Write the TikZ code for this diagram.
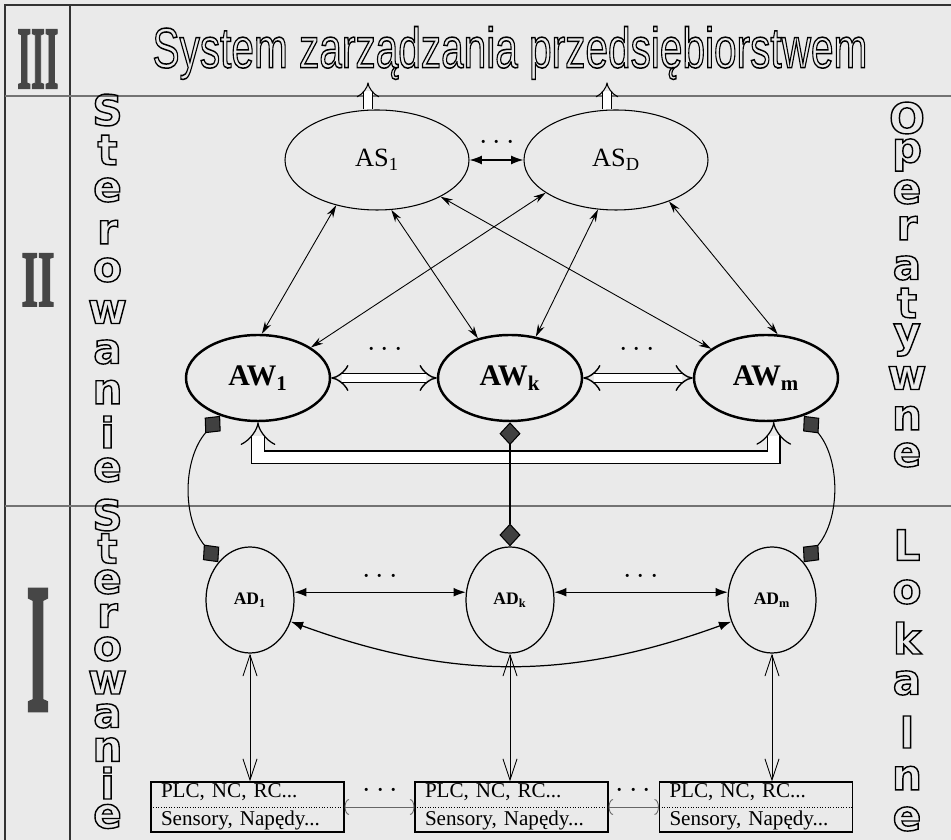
\documentclass[tikz,border=0pt]{standalone}
\usepackage{fontspec}
\setmainfont{Liberation Serif}
\newfontfamily\headfont{Liberation Sans}
\newfontfamily\sidefont{DejaVu Sans}
\usetikzlibrary{arrows.meta,shapes.geometric,positioning}

\definecolor{scan}{RGB}{234,234,234}
\definecolor{numgray}{RGB}{70,70,70}

% litery konturowe (tryb renderowania 1 = sam obrys)
\newcommand{\hollow}[1]{\special{pdf:literal direct 1 Tr 0.8 w}#1\special{pdf:literal direct 0 Tr}}
\newcommand{\heavy}[1]{\special{pdf:literal direct 2 Tr 0.25 w}#1\special{pdf:literal direct 0 Tr}}

\begin{document}
\begin{tikzpicture}[
    asnode/.style={draw, ellipse, line width=0.6pt, minimum width=3.68cm, minimum height=2cm, inner sep=0pt, font=\fontsize{15}{15}\selectfont},
    awnode/.style={draw, ellipse, line width=1.4pt, minimum width=2.88cm, minimum height=1.72cm, inner sep=0pt, font=\fontsize{17}{17}\selectfont\bfseries},
    adnode/.style={draw, ellipse, line width=0.7pt, minimum width=1.76cm, minimum height=2.12cm, inner sep=0pt, font=\fontsize{10}{10}\selectfont\bfseries},
    plcbox/.style={draw, line width=0.7pt, minimum width=3.86cm, minimum height=0.98cm, text width=3.46cm, align=left, inner xsep=0.2cm, inner ysep=1pt, font=\fontsize{12}{16}\selectfont},
    sidelet/.style={inner sep=0pt, font=\sidefont\bfseries\fontsize{24}{24}\selectfont},
    roman/.style={inner sep=0pt, text=numgray, font=\bfseries},
    dotsnode/.style={inner sep=0pt, font=\fontsize{16}{16}\selectfont},
    link/.style={line width=0.5pt, {Stealth[length=7pt,width=4pt]}-{Stealth[length=7pt,width=4pt]}},
    adlink/.style={line width=0.7pt, {Latex[length=7pt,width=5pt]}-{Latex[length=7pt,width=5pt]}},
    wide/.style={double, double distance=4.5pt, line width=0.8pt, {Implies[scale=1.4]}-{Implies[scale=1.4]}},
    bus/.style={double, double distance=6.5pt, line width=0.7pt, {Implies[scale=1.7]}-{Implies[scale=1.7]}},
    sysarrow/.style={double, double distance=4pt, line width=0.6pt, -{Implies[scale=1.2]}},
    dlink/.style={line width=0.6pt, {Diamond[length=13pt,width=12pt,fill=black!75]}-{Diamond[length=13pt,width=12pt,fill=black!75]}},
    vbarb/.style={line width=0.5pt, {Straight Barb[length=12pt,width=8pt]}-{Straight Barb[length=12pt,width=8pt]}},
    boxlink/.style={line width=0.5pt, black!60, {Arc Barb[length=2.5pt,width=9pt]}-{Arc Barb[length=2.5pt,width=9pt]}},
    frameline/.style={line width=0.7pt, black!80},
    sepline/.style={line width=0.6pt, black!55}
  ]
    \fill[scan] (0,0) rectangle (19.02,16.8);
    \useasboundingbox (0,0) rectangle (19.02,16.8);

    % Ramka i poziomy
    \draw[frameline] (0.1,0) -- (0.1,16.7) -- (19.02,16.7);
    \draw[frameline] (1.4,0) -- (1.4,16.7);
    \draw[sepline] (0.1,14.88) -- (19.02,14.88);
    \draw[sepline] (0.1,6.68) -- (19.02,6.68);

    \node[roman] (lvIII) at (0.76,15.62) {\resizebox*{0.82cm}{1.16cm}{\heavy{III}}};
    \node[roman] (lvII) at (0.76,11.2) {\resizebox*{0.66cm}{1.04cm}{\heavy{II}}};
    \node[roman] (lvI) at (0.76,3.8) {\resizebox*{0.46cm}{2.4cm}{\heavy{I}}};

    \node[inner sep=0pt, font=\headfont\fontsize{30}{30}\selectfont] (title) at (10.2,15.74)
      {\resizebox*{14.3cm}{1.06cm}{\hollow{System zarządzania przedsiębiorstwem}}};

    % Napisy boczne
    \foreach \ch/\yy [count=\i] in {S/14.6, t/13.8, e/13.0, r/12.16, o/11.4, w/10.56, a/9.76, n/8.96, i/8.16, e/7.4}
      \node[sidelet] (stA\i) at (2.15,\yy) {\hollow{\ch}};
    \foreach \ch/\yy [count=\i] in {S/6.5, t/5.83, e/5.16, r/4.49, o/3.82, w/3.15, a/2.48, n/1.81, i/1.14, e/0.47}
      \node[sidelet] (stB\i) at (2.15,\yy) {\hollow{\ch}};
    \foreach \ch/\yy [count=\i] in {O/14.44, p/13.7, e/12.96, r/12.24, a/11.44, t/10.74, y/10.0, w/9.24, n/8.44, e/7.7}
      \node[sidelet] (op\i) at (18.14,\yy) {\hollow{\ch}};
    \foreach \ch/\yy [count=\i] in {L/5.9, o/4.96, k/4.04, a/3.14, l/2.16, n/1.24, e/0.42}
      \node[sidelet] (lo\i) at (18.14,\yy) {\hollow{\ch}};

    % Węzły
    \node[asnode] (AS1) at (7.54,13.6) {AS\textsubscript{1}};
    \node[asnode] (ASD) at (12.32,13.6) {AS\textsubscript{D}};
    \node[awnode] (AW1) at (5.16,9.24) {AW\textsubscript{1}};
    \node[awnode] (AWk) at (10.2,9.24) {AW\textsubscript{k}};
    \node[awnode] (AWm) at (15.32,9.24) {AW\textsubscript{m}};
    \node[adnode] (AD1) at (5.0,4.8) {AD\textsubscript{1}};
    \node[adnode] (ADk) at (10.2,4.8) {AD\textsubscript{k}};
    \node[adnode] (ADm) at (15.44,4.8) {AD\textsubscript{m}};
    \node[plcbox] (box1) at (4.95,0.66) {PLC, NC, RC...\\Sensory, Napędy...};
    \node[plcbox] (box2) at (10.23,0.66) {PLC, NC, RC...\\Sensory, Napędy...};
    \node[plcbox] (box3) at (15.12,0.66) {PLC, NC, RC...\\Sensory, Napędy...};
    \foreach \b in {box1,box2,box3}
      \draw[densely dotted, line width=0.5pt] (\b.west) -- (\b.east);

    \node[dotsnode] (dAS) at (9.94,13.94) {$\cdots$};
    \node[dotsnode] (dAW1) at (7.7,9.8) {$\cdots$};
    \node[dotsnode] (dAW2) at (12.74,9.8) {$\cdots$};
    \node[dotsnode] (dAD1) at (7.6,5.26) {$\cdots$};
    \node[dotsnode] (dAD2) at (12.82,5.26) {$\cdots$};
    \node[dotsnode] (dBox1) at (7.61,0.98) {$\cdots$};
    \node[dotsnode] (dBox2) at (12.67,0.98) {$\cdots$};

    % Połączenia z poziomem III
    \coordinate (upA) at ([xshift=-0.18cm,yshift=0.54cm]AS1.north);
    \coordinate (upD) at ([xshift=-0.18cm,yshift=0.54cm]ASD.north);
    \draw[sysarrow] ([xshift=-0.18cm]AS1.north) -- (upA);
    \draw[sysarrow] ([xshift=-0.18cm]ASD.north) -- (upD);
    \draw[adlink] (AS1.east) -- (ASD.west);

    \draw[link] (AS1.228) -- (AW1.85);
    \draw[link] (AS1.286) -- (AWk.129);
    \draw[link] (AS1.330) -- (AWm.152);
    \draw[link] (ASD.205) -- (AW1.30);
    \draw[link] (ASD.250) -- (AWk.58);
    \draw[link] (ASD.322) -- (AWm.75);

    \draw[wide] (AW1.east) -- (AWk.west);
    \draw[wide] (AWk.east) -- (AWm.west);
    \draw[bus] (AW1.south) -- ++(0,-0.7) -| (AWm.-80);

    \draw[dlink] (AW1.225) to[bend right=40] (AD1.130);
    \draw[dlink] (AWm.315) to[bend left=40] (ADm.50);
    \draw[dlink] (AWk.south) -- (ADk.north);

    \draw[adlink] (AD1.10) -- (ADk.170);
    \draw[adlink] (ADk.10) -- (ADm.170);
    \draw[adlink] (AD1.-28) to[out=-20,in=200] (ADm.208);

    \draw[vbarb] (AD1.south) -- (AD1.south |- box1.north);
    \draw[vbarb] (ADk.south) -- (ADk.south |- box2.north);
    \draw[vbarb] (ADm.south) -- (ADm.south |- box3.north);

    \draw[boxlink] (box1.east) -- (box2.west);
    \draw[boxlink] (box2.east) -- (box3.west);
\end{tikzpicture}
\end{document}
